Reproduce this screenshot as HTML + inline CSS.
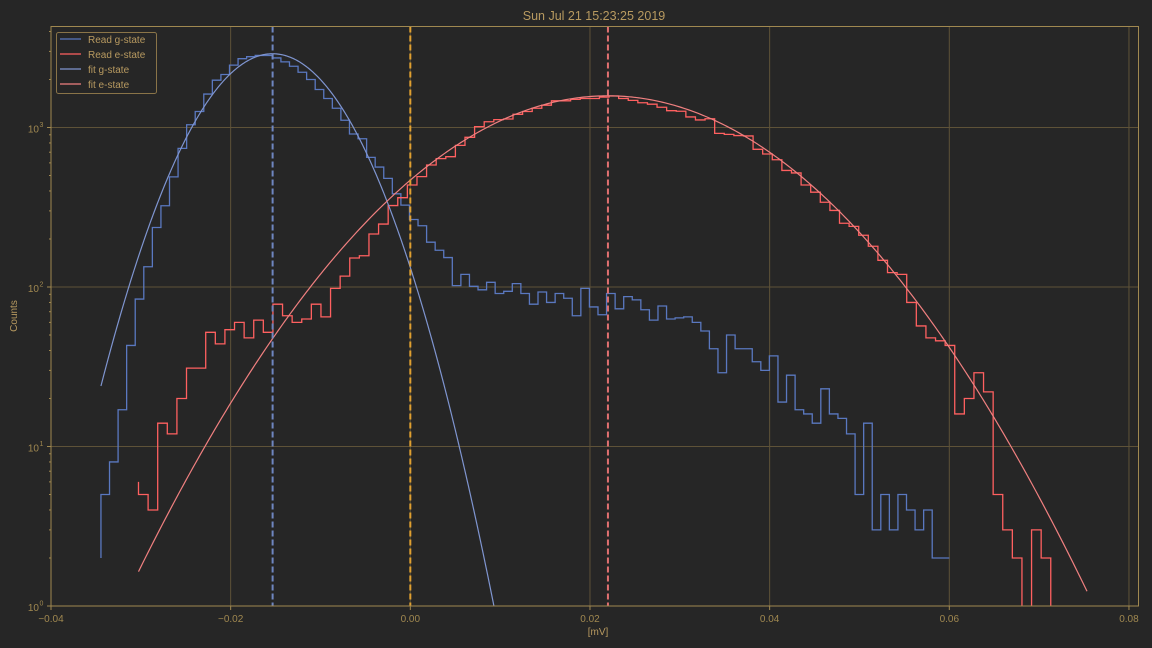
<!DOCTYPE html>
<html><head><meta charset="utf-8"><style>
html,body{margin:0;padding:0;background:#262626;width:1152px;height:648px;overflow:hidden;}
svg{display:block;font-family:"Liberation Sans","DejaVu Sans",sans-serif;}
</style></head><body>
<svg id="chart" width="1152" height="648" viewBox="0 0 1152 648" xmlns="http://www.w3.org/2000/svg">
<rect x="0" y="0" width="1152" height="648" fill="#262626"/>
<text x="594" y="20" text-anchor="middle" font-size="12.5" fill="#b89a60">Sun Jul 21 15:23:25 2019</text>
<text x="598" y="635" text-anchor="middle" font-size="10" fill="#b89a60">[mV]</text>
<text x="17" y="316" text-anchor="middle" font-size="10" fill="#b89a60" transform="rotate(-90 17 316)">Counts</text>
<g id="grid"></g>
<g id="plot"></g>
<g id="axes"></g>
<g>
<rect x="56.5" y="32.5" width="100" height="61" rx="2" fill="#262626" stroke="#8a7448" stroke-width="1"/>
<line x1="60" y1="39" x2="81" y2="39" stroke="#5a78c0" stroke-width="1.2"/>
<text x="88" y="43" font-size="10" fill="#b89a60">Read g-state</text>
<line x1="60" y1="54" x2="81" y2="54" stroke="#ff6060" stroke-width="1.2"/>
<text x="88" y="58" font-size="10" fill="#b89a60">Read e-state</text>
<line x1="60" y1="69" x2="81" y2="69" stroke="#7f95d0" stroke-width="1.2"/>
<text x="88" y="73" font-size="10" fill="#b89a60">fit g-state</text>
<line x1="60" y1="84" x2="81" y2="84" stroke="#f08080" stroke-width="1.2"/>
<text x="88" y="88" font-size="10" fill="#b89a60">fit e-state</text>
</g>
</svg>
<script>
// ---- data ----
const gStart = -0.03444;
const gBinWidth = 0.000954;
const gCounts = [2,5,8,17,43,84,134,236,323,490,740,1040,1260,1620,1980,2150,2460,2700,2780,2830,2830,2730,2580,2420,2220,2000,1730,1520,1320,1110,910,850,650,565,480,384,326,265,
242,191,170,153,102,120,101,96,107,91,94,105,91,78,93,80,91,85,66,98,75,67,91,73,87,83,72,62,76,63,64,65,60,53,41,29,50,41,41,34,
30,37,19,28,17,16,14,23,16,15,12,5,14,3,5,3,5,4,3,4,2,2];
const eStart = -0.03026;
const eBinWidth = 0.001069;
const eCounts = [6,5,4,14,12,20,31,31,52,44,54,60,48,62,52,78,66,60,63,78,65,98,117,152,157,215,248,324,363,436,
492,582,638,656,773,868,1012,1087,1120,1130,1210,1260,1320,1380,1470,1470,1500,1520,1520,1550,1575,1520,1480,1430,1400,1340,1275,1265,1165,1115,1135,919,905,890,885,
730,682,628,538,519,436,393,340,302,251,240,211,180,147,123,120,80,57,48,46,43,16,20,29,22,5,3,2,0,3,2];
const gFit = {amp:2900, mu:-0.01533, sigma:0.00617, from:-0.03444, to:0.012};
const eFit = {amp:1580, mu:0.0220, sigma:0.0141, from:-0.03026, to:0.07533};
const thresholds = [-0.01533, 0.0, 0.0220];
const xTicks = [-0.04,-0.02,0.00,0.02,0.04,0.06,0.08];
const xTickLabels = ["\u22120.04","\u22120.02","0.00","0.02","0.04","0.06","0.08"];
const yDecades = [0,1,2,3];

// ---- scales ----
const L=51, R=1138.5, T=26.5, B=606;
const xMin=-0.04, xPerUnit=8983;
function sx(v){return L+(v-xMin)*xPerUnit;}
const decPx=159.5;
function sy(v){ if(v<=0) return B+5; return B-Math.log10(v)*decPx; }
const NS="http://www.w3.org/2000/svg";
function mk(tag,attrs,parent){const e=document.createElementNS(NS,tag);for(const k in attrs)e.setAttribute(k,attrs[k]);parent.appendChild(e);return e;}

const grid=document.getElementById('grid'), plot=document.getElementById('plot'), axes=document.getElementById('axes');
const svg=document.getElementById('chart');
const defs=mk('defs',{},svg);
const cp=mk('clipPath',{id:'clip'},defs);
mk('rect',{x:L,y:T,width:R-L,height:B-T},cp);
plot.setAttribute('clip-path','url(#clip)');

// grid
xTicks.forEach((t,i)=>{
  const g=mk('line',{x1:sx(t),x2:sx(t),y1:T,y2:B,stroke:'#5e5238','stroke-width':1},grid);
  
  
});
yDecades.forEach(d=>{
  const g=mk('line',{x1:L,x2:R,y1:sy(Math.pow(10,d)),y2:sy(Math.pow(10,d)),stroke:'#5e5238','stroke-width':1},grid);
  
  
});

// step paths
function stepPath(start,w,counts,dropEnd){
  let d='M'+sx(start).toFixed(2)+','+sy(counts[0]).toFixed(2);
  let x1=sx(start);
  for(let i=1;i<counts.length;i++){
    const x0=sx(start+(i-1)*w), y=sy(counts[i]);
    x1=sx(start+i*w);
    d+=' L'+x0.toFixed(2)+','+y.toFixed(2)+' L'+x1.toFixed(2)+','+y.toFixed(2);
  }
  if(dropEnd) d+=' L'+x1.toFixed(2)+','+(B+5);
  return d;
}
function fitPath(f){
  let d='';
  for(let i=0;i<=400;i++){
    const x=f.from+(f.to-f.from)*i/400;
    const v=f.amp*Math.exp(-Math.pow(x-f.mu,2)/(2*f.sigma*f.sigma));
    d+=(i?' L':'M')+sx(x).toFixed(2)+','+sy(v).toFixed(2);
  }
  return d;
}
let p;
p=mk('path',{d:stepPath(gStart,gBinWidth,gCounts,false),fill:'none',stroke:'#5a78c0','stroke-width':1.3},plot);


p=mk('path',{d:stepPath(eStart,eBinWidth,eCounts,true),fill:'none',stroke:'#ff6060','stroke-width':1.3},plot);


p=mk('path',{d:fitPath(gFit),fill:'none',stroke:'#7f95d0','stroke-width':1.2},plot);


p=mk('path',{d:fitPath(eFit),fill:'none',stroke:'#f08080','stroke-width':1.2},plot);



const thrColors=['#6f86c0','#e0a030','#e07070'];
const thrNames=['g-state-mean-line','threshold-line','e-state-mean-line'];
thresholds.forEach((t,i)=>{
  const l=mk('line',{x1:sx(t),x2:sx(t),y1:T,y2:B,stroke:thrColors[i],'stroke-width':2,'stroke-dasharray':'6,3'},plot);
  
  
});

// axes frame
const fr=mk('rect',{x:L,y:T,width:R-L,height:B-T,fill:'none',stroke:'#a08850','stroke-width':1},axes);


xTicks.forEach((t,i)=>{
  mk('line',{x1:sx(t),x2:sx(t),y1:B,y2:B+4,stroke:'#a08850'},axes);
  const tx=mk('text',{x:sx(t),y:B+16,'text-anchor':'middle','font-size':10,fill:'#a08850'},axes);
  tx.textContent=xTickLabels[i];
  
  
});
yDecades.forEach(d=>{
  const y=sy(Math.pow(10,d));
  mk('line',{x1:L-4,x2:L,y1:y,y2:y,stroke:'#a08850'},axes);
  const tx=mk('text',{x:L-12,y:y+5,'text-anchor':'end','font-size':10,fill:'#a08850'},axes);
  tx.textContent='10';
  
  
  const sup=mk('text',{x:L-11.5,y:y-0.5,'text-anchor':'start','font-size':7,fill:'#a08850'},axes);
  sup.textContent=String(d);
  
  
  for(let m=2;m<=9;m++){
    const v=m*Math.pow(10,d);
    const yy=sy(v);
    if(yy<T) break;
    mk('line',{x1:L-2,x2:L,y1:yy,y2:yy,stroke:'#a08850'},axes);
  }
});
</script>
</body></html>
